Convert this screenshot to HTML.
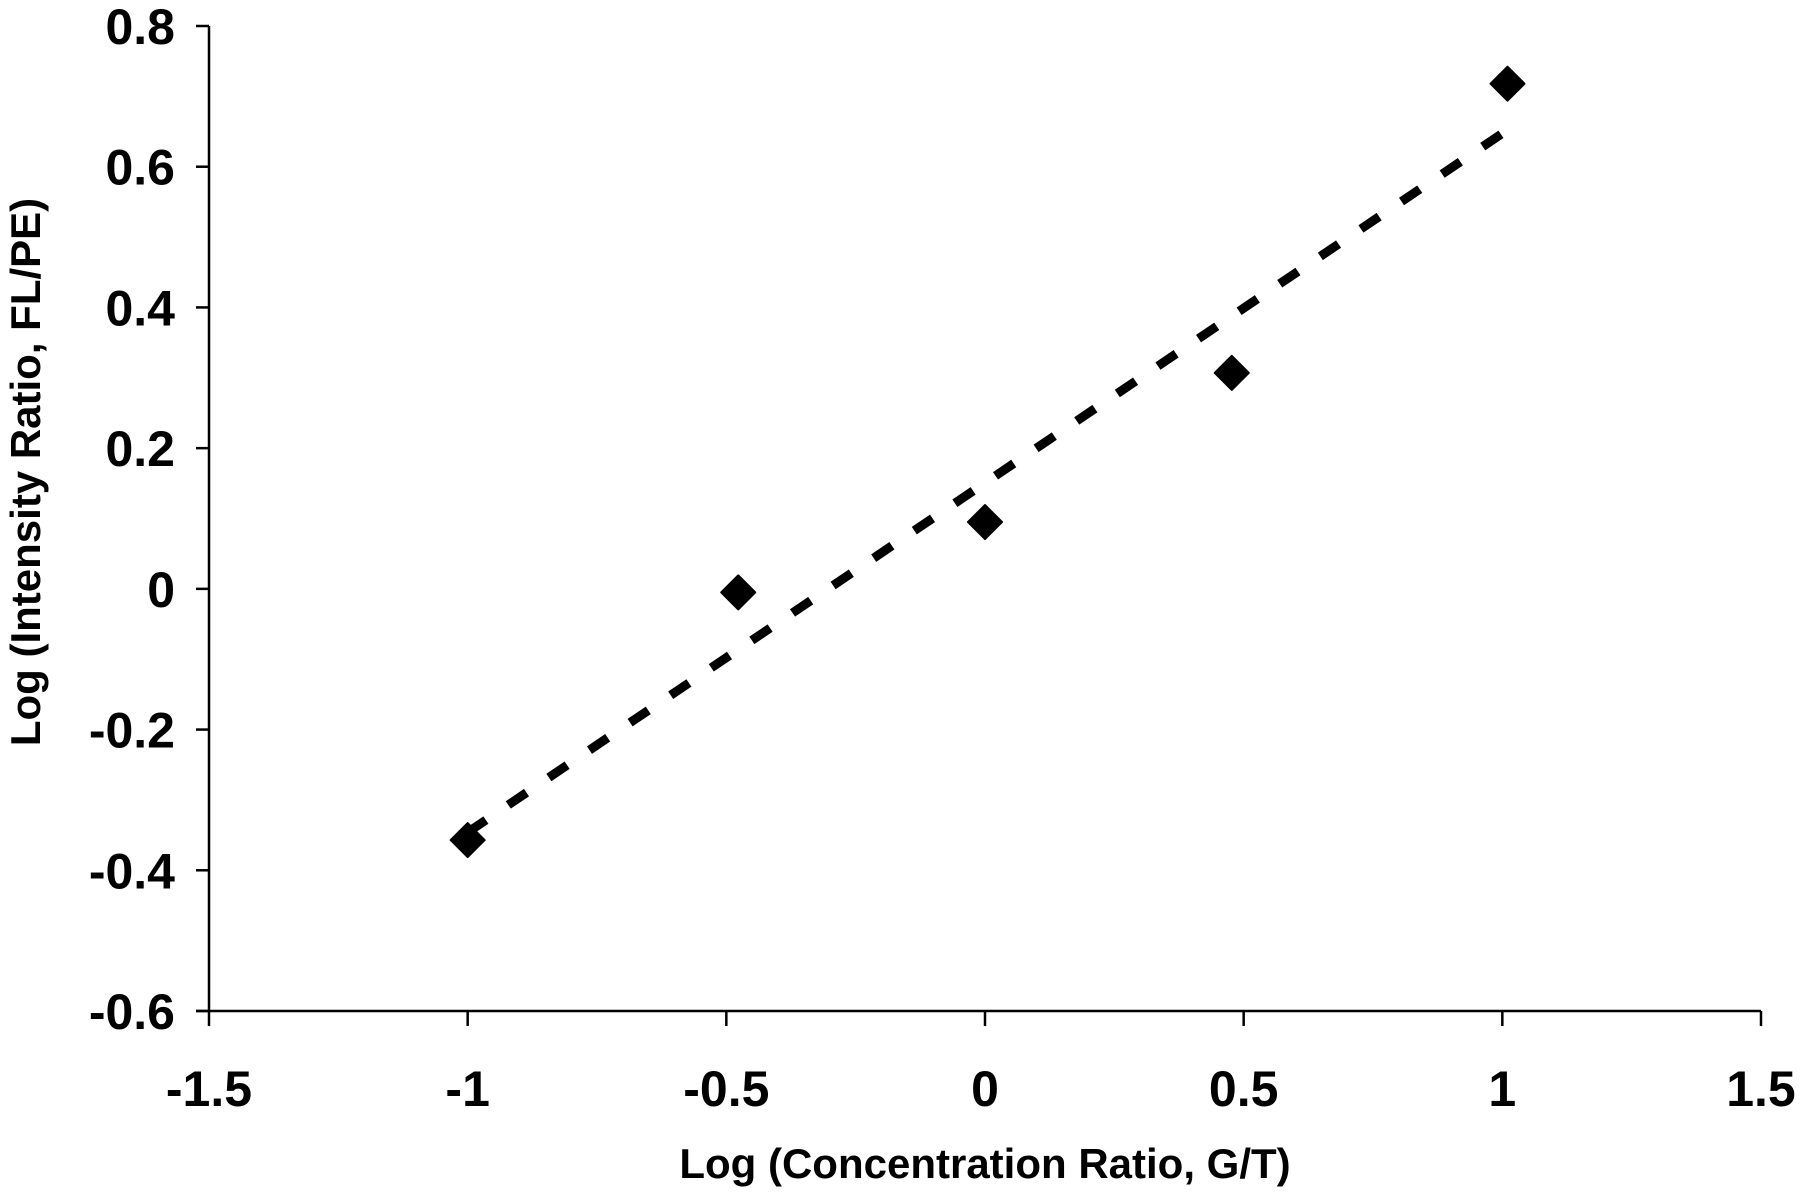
<!DOCTYPE html>
<html><head><meta charset="utf-8"><style>
html,body{margin:0;padding:0;background:#fff;}
svg{display:block;font-family:"Liberation Sans",Arial,sans-serif;font-weight:bold;}
</style></head><body>
<svg id="chart" width="1800" height="1196" viewBox="0 0 1800 1196">
<g id="axes"></g>
<g id="marks"></g>
<text x="985" y="1178" font-size="42" text-anchor="middle">Log (Concentration Ratio, G/T)</text>
<text x="0" y="0" font-size="42" text-anchor="middle" transform="translate(40,472) rotate(-90)">Log (Intensity Ratio, FL/PE)</text>
</svg>
<script>
const xValues = [-1, -0.477, 0, 0.477, 1.01];
const yValues = [-0.357, -0.005, 0.095, 0.307, 0.718];
const xTicks = [-1.5, -1, -0.5, 0, 0.5, 1, 1.5];
const yTicks = [-0.6, -0.4, -0.2, 0, 0.2, 0.4, 0.6, 0.8];
const xTickLabels = ["-1.5", "-1", "-0.5", "0", "0.5", "1", "1.5"];
const yTickLabels = ["-0.6", "-0.4", "-0.2", "0", "0.2", "0.4", "0.6", "0.8"];

const L=209, R=1761, T=26, B=1011;
const xMin=-1.5, xMax=1.5, yMin=-0.6, yMax=0.8;
function sx(v){return L+(v-xMin)/(xMax-xMin)*(R-L);}
function sy(v){return B-(v-yMin)/(yMax-yMin)*(B-T);}
const NS="http://www.w3.org/2000/svg";
function mk(tag,attrs,parent){const e=document.createElementNS(NS,tag);for(const k in attrs)e.setAttribute(k,attrs[k]);parent.appendChild(e);return e;}
const axes=document.getElementById('axes'), marks=document.getElementById('marks');

const yAxis=mk('line',{x1:L,y1:T,x2:L,y2:B,stroke:'#000','stroke-width':2.5},axes);


const xAxis=mk('line',{x1:L-13,y1:B,x2:R,y2:B,stroke:'#000','stroke-width':2.5},axes);



yTicks.forEach((v,i)=>{
  const t=mk('line',{x1:L-13,y1:sy(v),x2:L,y2:sy(v),stroke:'#000','stroke-width':2.5},axes);
  
  
  const lb=mk('text',{x:175,y:sy(v)+18,'font-size':50,'text-anchor':'end'},axes);
  lb.textContent=yTickLabels[i];
  
  
});
xTicks.forEach((v,i)=>{
  const t=mk('line',{x1:sx(v),y1:B,x2:sx(v),y2:B+15,stroke:'#000','stroke-width':2.5},axes);
  
  
  const lb=mk('text',{x:sx(v),y:1106,'font-size':50,'text-anchor':'middle'},axes);
  lb.textContent=xTickLabels[i];
  
  
});

const n=xValues.length;
const mx=xValues.reduce((a,b)=>a+b,0)/n, my=yValues.reduce((a,b)=>a+b,0)/n;
let sxy=0,sxx=0;for(let i=0;i<n;i++){sxy+=(xValues[i]-mx)*(yValues[i]-my);sxx+=(xValues[i]-mx)**2;}
const slope=sxy/sxx, icpt=my-slope*mx;
const x0=Math.min(...xValues), x1=Math.max(...xValues);
const tl=mk('line',{x1:sx(x0),y1:sy(slope*x0+icpt),x2:sx(x1),y2:sy(slope*x1+icpt),stroke:'#000','stroke-width':9,'stroke-dasharray':'22 27'},marks);



xValues.forEach((v,i)=>{
  const cx=sx(v), cy=sy(yValues[i]), r=17;
  const p=mk('polygon',{points:`${cx},${cy-r} ${cx+r},${cy} ${cx},${cy+r} ${cx-r},${cy}`,fill:'#000','stroke-linejoin':'round',stroke:'#000','stroke-width':2},marks);
  
  
});
</script>
</body></html>
